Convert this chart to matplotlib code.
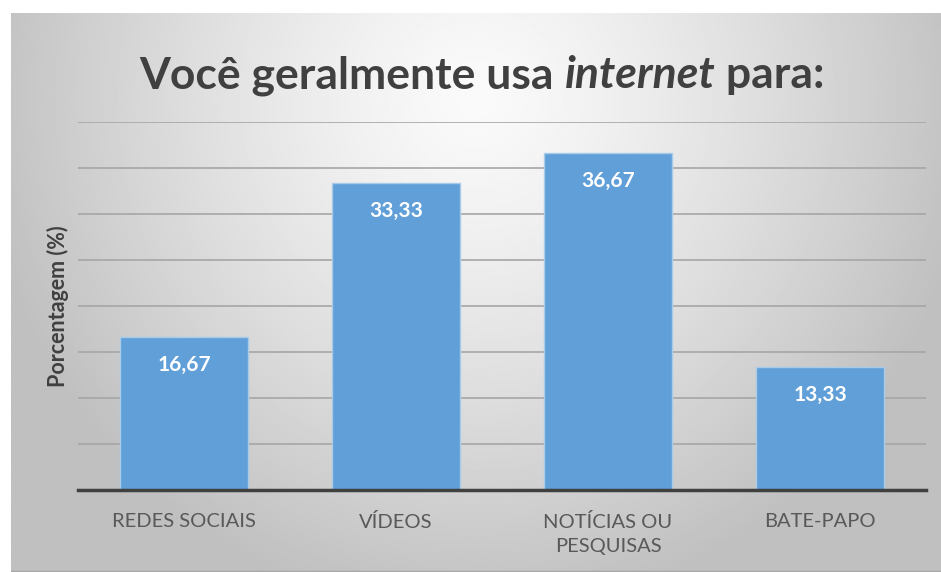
import numpy as np
import matplotlib
matplotlib.use("Agg")
import matplotlib.pyplot as plt

categories = ["REDES SOCIAIS", "VÍDEOS", "NOTÍCIAS OU\nPESQUISAS", "BATE-PAPO"]
values = [16.67, 33.33, 36.67, 13.33]
value_labels = ["16,67", "33,33", "36,67", "13,33"]
title_parts = [("Você geralmente usa ", "normal"), ("internet", "italic"), (" para:", "normal")]
y_label = "Porcentagem (%)"

FONT = "Lato"
TEXT_DARK = "#404040"
TICK_COLOR = "#595959"
BAR_COLOR = "#609fd8"
BAR_EDGE = "#a9cbea"

W, H = 941, 572
fig = plt.figure(figsize=(W / 100, H / 100), dpi=100)

# panel background with radial gray gradient
px0, py0 = 11, 13
bg = fig.add_axes([px0 / W, 0, (W - px0) / W, (H - py0) / H])
gx, gy = np.meshgrid(np.linspace(0, 1, 400), np.linspace(0, 1, 300))
r = np.sqrt(((gx - 0.5) / 0.55) ** 2 + ((gy - 0.15) / 0.95) ** 2)
shade = np.clip(250 - 60 * r ** 1.3, 192, 250) / 255.0
bg.imshow(shade, cmap="gray", vmin=0, vmax=1, aspect="auto", extent=[0, 1, 1, 0])
bg.axhline(1, color="#a8a8a8", lw=2.5)
bg.set_xlim(0, 1)
bg.set_ylim(1, 0)
bg.axis("off")

ax = fig.add_axes([78 / W, 1 - 490 / H, (926 - 78) / W, (490 - 122) / H])
ax.set_facecolor("none")

x = np.arange(len(categories))
ax.bar(x, values, width=0.6, color=BAR_COLOR, edgecolor=BAR_EDGE, linewidth=1.0, zorder=3)

for xi, v, lab in zip(x, values, value_labels):
    ax.annotate(lab, (xi, v), xytext=(0, -28), textcoords="offset pixels",
                ha="center", va="center", color="white", fontsize=15,
                fontweight="bold", family=FONT, zorder=4)

ax.set_xlim(-0.5, len(categories) - 0.5)
ax.set_ylim(0, 40)
ax.set_yticks(np.arange(0, 41, 5))
ax.yaxis.grid(True, color="#a6a6a6", linewidth=1.2, zorder=0)
ax.set_axisbelow(True)
ax.tick_params(axis="y", left=False, labelleft=False)
ax.tick_params(axis="x", bottom=False, pad=13)
ax.set_xticks(x)
ax.set_xticklabels(categories, fontsize=14.5, color=TICK_COLOR, family=FONT,
                   linespacing=1.5)
for s in ["top", "right", "left"]:
    ax.spines[s].set_visible(False)
ax.spines["bottom"].set_color(TEXT_DARK)
ax.spines["bottom"].set_linewidth(2.5)
ax.spines["bottom"].set_zorder(5)

ax.set_ylabel(y_label, fontsize=15.5, fontweight="bold", color=TEXT_DARK, family=FONT)
ax.yaxis.set_label_coords(-0.011, 0.5)

# title assembled from pieces so "internet" can be italic
fig.canvas.draw()
renderer = fig.canvas.get_renderer()
title_size = 32
pieces = []
for txt, style in title_parts:
    t = fig.text(0, 0, txt, fontsize=title_size, fontweight="bold", style=style,
                 family=FONT, color=TEXT_DARK, va="baseline")
    pieces.append(t)
widths = [t.get_window_extent(renderer).width for t in pieces]
total = sum(widths)
cx = 482
xpos = cx - total / 2
base_y = 1 - 88 / H
for t, w in zip(pieces, widths):
    t.set_position((xpos / W, base_y))
    xpos += w

fig.savefig("out.png", dpi=100)
